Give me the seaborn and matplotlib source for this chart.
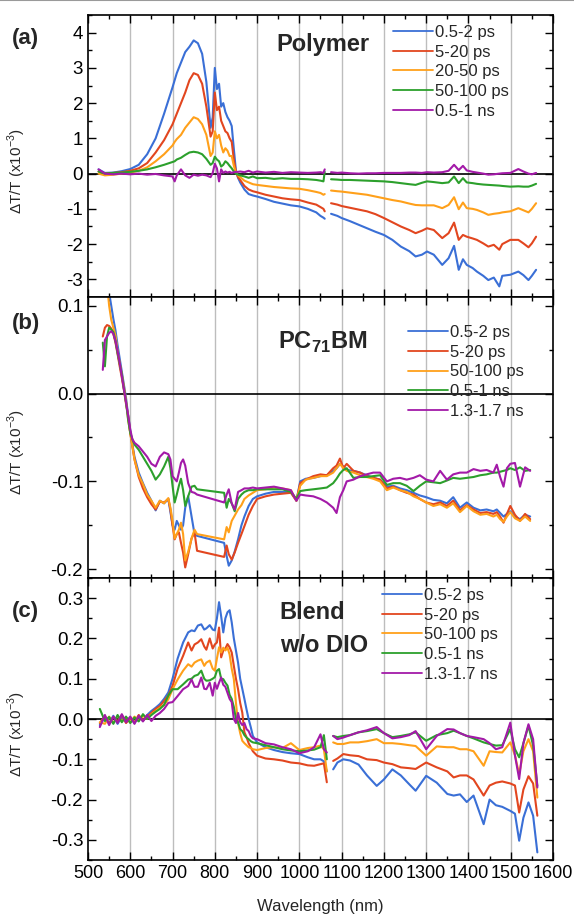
import numpy as np
import pandas as pd
import matplotlib
matplotlib.use('Agg')
import matplotlib.pyplot as plt
from matplotlib.lines import Line2D
from matplotlib.ticker import MultipleLocator, FormatStrFormatter
import seaborn as sns

sns.set_style('ticks')
plt.rcParams['font.family'] = ['Liberation Sans', 'DejaVu Sans']
plt.rcParams['axes.unicode_minus'] = False
plt.rcParams['mathtext.fontset'] = 'custom'
plt.rcParams['mathtext.rm'] = 'Liberation Sans'
plt.rcParams['mathtext.bf'] = 'Liberation Sans:bold'

nan = np.nan
colors = ['#3a6fd6', '#e2461f', '#ffa01a', '#2ca02c', '#a31aa8']

# ---------------- panel (a): polymer ----------------
labels_a = ['0.5-2 ps', '5-20 ps', '20-50 ps', '50-100 ps', '0.5-1 ns']
wl_a = [525, 540, 560, 580, 600, 620, 640, 660, 680, 700,
        705, 710, 720, 730, 740, 750, 760, 770, 780, 790,
        795, 800, 805, 810, 815, 820, 825, 830, 835, 840,
        845, 850, 855, 860, 870, 880, 890, 900, 920, 940,
        960, 980, 1000, 1020, 1040, 1050, 1057, 1060, 1068, 1075,
        1090, 1100, 1120, 1140, 1160, 1180, 1200, 1220, 1240, 1260,
        1275, 1290, 1302, 1318, 1338, 1353, 1366, 1377, 1387, 1396,
        1410, 1420, 1435, 1447, 1460, 1473, 1480, 1499, 1518, 1530,
        1542, 1550, 1560]
a_05_2ps = [0.12, 0.02, 0.03, 0.07, 0.13, 0.25, 0.55, 1.0, 1.7, 2.45,
            2.65, 2.85, 3.15, 3.45, 3.6, 3.78, 3.7, 3.4, 2.6, 1.3,
            1.6, 3.0, 2.4, 2.55, 1.9, 2.0, 1.75, 1.6, 1.5, 1.35,
            0.7, 0.08, -0.12, -0.25, -0.45, -0.58, -0.62, -0.65, -0.72, -0.8,
            -0.85, -0.9, -0.93, -1.0, -1.1, -1.2, -1.25, -1.28, nan, -1.14,
            -1.2, -1.26, -1.35, -1.45, -1.55, -1.65, -1.74, -1.88, -2.07, -2.2,
            -2.35, -2.3, -2.21, -2.3, -2.59, -2.4, -2.05, -2.73, -2.43, -2.59,
            -2.68, -2.78, -2.9, -3.02, -2.95, -3.2, -2.9, -2.87, -2.78, -2.88,
            -3.02, -2.9, -2.73]
a_5_20ps = [0.06, 0.0, 0.02, 0.04, 0.08, 0.15, 0.3, 0.6, 0.95, 1.4,
            1.55, 1.7, 2.0, 2.3, 2.65, 2.85, 2.8, 2.55, 1.9, 1.05,
            1.2, 2.3, 1.8, 1.9, 1.5, 1.35, 1.2, 1.15, 1.0, 0.9,
            0.4, 0.05, -0.1, -0.18, -0.35, -0.45, -0.5, -0.53, -0.6, -0.65,
            -0.7, -0.73, -0.75, -0.82, -0.88, -0.95, -1.0, -1.07, nan, -0.84,
            -0.88, -0.92, -0.97, -1.02, -1.07, -1.15, -1.26, -1.38, -1.5, -1.6,
            -1.69, -1.62, -1.55, -1.6, -1.83, -1.69, -1.39, -1.88, -1.74, -1.79,
            -1.84, -1.88, -1.98, -2.07, -2.02, -2.16, -2.0, -1.88, -1.88, -1.98,
            -2.09, -1.98, -1.79]
a_20_50ps = [0.0, -0.05, -0.03, 0.0, 0.03, 0.08, 0.18, 0.35, 0.55, 0.8,
             0.9, 0.98, 1.1, 1.3, 1.45, 1.6, 1.55, 1.4, 1.1, 0.5,
             0.6, 1.2, 1.0, 1.1, 0.8, 0.6, 0.72, 0.65, 0.5, 0.5,
             0.22, 0.02, -0.05, -0.1, -0.2, -0.25, -0.3, -0.32, -0.35, -0.38,
             -0.4, -0.42, -0.43, -0.47, -0.52, -0.55, -0.6, -0.58, nan, -0.48,
             -0.5, -0.51, -0.54, -0.57, -0.6, -0.65, -0.7, -0.75, -0.79, -0.85,
             -0.89, -0.9, -0.9, -0.9, -0.98, -0.89, -0.67, -1.01, -0.82, -0.98,
             -1.0, -1.03, -1.1, -1.17, -1.14, -1.12, -1.1, -1.07, -0.98, -1.04,
             -1.1, -1.0, -0.84]
a_50_100ps = [0.06, 0.0, 0.02, 0.03, 0.05, 0.08, 0.12, 0.18, 0.25, 0.33,
              0.35, 0.4, 0.45, 0.53, 0.6, 0.62, 0.6, 0.55, 0.42, 0.25,
              0.3, 0.48, 0.4, 0.35, 0.2, 0.25, 0.35, 0.3, 0.22, 0.15,
              0.06, 0.0, -0.03, -0.05, -0.08, -0.12, -0.08, -0.13, -0.12, -0.15,
              -0.13, -0.15, -0.15, -0.16, -0.18, -0.2, -0.22, 0.05, nan, -0.16,
              -0.17, -0.18, -0.18, -0.19, -0.2, -0.21, -0.22, -0.24, -0.27, -0.3,
              -0.32, -0.26, -0.22, -0.24, -0.27, -0.25, -0.08, -0.27, -0.13, -0.25,
              -0.27, -0.29, -0.31, -0.32, -0.33, -0.34, -0.35, -0.37, -0.36, -0.37,
              -0.37, -0.34, -0.29]
a_05_1ns = [0.12, 0.0, -0.02, 0.0, -0.02, 0.0, -0.03, -0.01, -0.05, -0.08,
            -0.22, -0.05, 0.12, -0.05, -0.12, -0.03, -0.06, -0.03, -0.05, -0.1,
            0.02, 0.28, 0.15, -0.22, 0.12, 0.02, 0.06, 0.03, 0.05, 0.02,
            0.04, 0.05, 0.05, 0.06, 0.04, 0.08, 0.03, 0.06, 0.03, 0.05,
            0.02, 0.04, 0.03, 0.02, 0.03, 0.04, 0.02, 0.12, nan, 0.04,
            0.02, 0.03, 0.01, 0.0, 0.01, 0.01, 0.02, 0.02, 0.02, 0.03,
            0.03, 0.02, 0.04, 0.03, 0.04, 0.08, 0.25, 0.1, 0.22, 0.09,
            0.05, 0.03, 0.0, -0.03, -0.02, 0.0, 0.01, 0.02, 0.13, 0.06,
            0.0, -0.02, 0.02]

# ---------------- panel (b): PC71BM ----------------
labels_bc = ['0.5-2 ps', '5-20 ps', '50-100 ps', '0.5-1 ns', '1.3-1.7 ns']
wl_b = [535, 540, 545, 550, 555, 560, 565, 570, 575, 580,
        585, 590, 595, 600, 605, 610, 620, 630, 640, 650,
        660, 670, 680, 690, 695, 700, 705, 710, 715, 720,
        725, 730, 737, 745, 752, 758, 822, 828, 833, 840,
        847, 855, 863, 870, 880, 890, 900, 920, 940, 960,
        980, 993, 1002, 1015, 1033, 1050, 1065, 1080, 1088, 1096,
        1104, 1112, 1128, 1144, 1159, 1175, 1191, 1207, 1222, 1238,
        1254, 1270, 1285, 1300, 1317, 1333, 1349, 1364, 1380, 1396,
        1412, 1428, 1443, 1459, 1467, 1475, 1483, 1491, 1499, 1510,
        1522, 1534, 1546]
b_05_2ps = [nan, nan, 0.14, 0.115, 0.1, 0.085, 0.072, 0.055, 0.04, 0.025,
            0.01, -0.005, -0.025, -0.042, -0.058, -0.072, -0.09, -0.102, -0.113, -0.122,
            -0.133, -0.122, -0.125, -0.12, -0.135, -0.15, -0.155, -0.145, -0.15, -0.155,
            -0.15, -0.13, -0.117, -0.14, -0.16, -0.162, -0.17, -0.185, -0.196, -0.19,
            -0.18, -0.166, -0.15, -0.14, -0.128, -0.12, -0.117, -0.114, -0.112, -0.112,
            -0.112, -0.122, -0.1, -0.097, -0.096, -0.094, -0.093, -0.088, -0.085, -0.08,
            -0.083, -0.087, -0.088, -0.09, -0.093, -0.096, -0.098, -0.106, -0.105, -0.108,
            -0.11, -0.113, -0.116, -0.118, -0.121, -0.122, -0.125, -0.118, -0.13, -0.124,
            -0.13, -0.133, -0.132, -0.134, -0.132, -0.136, -0.14, -0.137, -0.134, -0.14,
            -0.143, -0.138, -0.14]
b_5_20ps = [0.065, 0.075, 0.078, 0.077, 0.074, 0.068, 0.058, 0.045, 0.031, 0.018,
            0.004, -0.012, -0.025, -0.045, -0.06, -0.075, -0.095, -0.108, -0.118, -0.126,
            -0.132, -0.123, -0.124, -0.12, -0.132, -0.15, -0.166, -0.16, -0.158, -0.17,
            -0.181, -0.198, -0.183, -0.165, -0.158, -0.179, -0.186, -0.173, -0.183, -0.189,
            -0.181, -0.17, -0.16, -0.151, -0.138, -0.128, -0.12, -0.117, -0.115, -0.114,
            -0.113, -0.122, -0.102, -0.098, -0.094, -0.092, -0.093, -0.085, -0.082, -0.074,
            -0.085, -0.08, -0.088, -0.09, -0.094, -0.096, -0.098, -0.108, -0.106, -0.11,
            -0.113, -0.115, -0.12, -0.124, -0.126, -0.124, -0.128, -0.122, -0.133, -0.127,
            -0.132, -0.136, -0.135, -0.137, -0.135, -0.14, -0.147, -0.137, -0.128, -0.138,
            -0.145, -0.137, -0.143]
b_50_100ps = [nan, nan, 0.125, 0.1, 0.084, 0.075, 0.066, 0.048, 0.035, 0.022,
              0.008, -0.008, -0.03, -0.045, -0.06, -0.075, -0.093, -0.103, -0.115, -0.122,
              -0.13, -0.122, -0.125, -0.119, -0.13, -0.145, -0.165, -0.16, -0.155, -0.147,
              -0.16, -0.19, -0.18, -0.165, -0.155, -0.16, -0.166, -0.152, -0.158, -0.145,
              -0.139, -0.132, -0.127, -0.12, -0.116, -0.113, -0.11, -0.109, -0.107, -0.108,
              -0.11, -0.122, -0.105, -0.098, -0.096, -0.094, -0.094, -0.09, -0.085, -0.08,
              -0.085, -0.088, -0.09, -0.093, -0.095, -0.097, -0.1, -0.11, -0.107, -0.11,
              -0.112, -0.117, -0.12, -0.124, -0.128, -0.126, -0.13, -0.125, -0.135, -0.128,
              -0.134, -0.138, -0.137, -0.14, -0.138, -0.143, -0.146, -0.14, -0.135, -0.142,
              -0.145, -0.14, -0.145]
b_05_1ns = [0.058, 0.031, 0.065, 0.075, 0.073, 0.07, 0.06, 0.046, 0.034, 0.022,
            0.005, -0.01, -0.03, -0.045, -0.052, -0.058, -0.064, -0.072, -0.08, -0.088,
            -0.098, -0.092, -0.083, -0.072, -0.085, -0.105, -0.124, -0.115, -0.105, -0.097,
            -0.11, -0.128, -0.117, -0.106, -0.105, -0.109, -0.113, -0.13, -0.12, -0.125,
            -0.134, -0.12, -0.115, -0.112, -0.11, -0.11, -0.109, -0.109, -0.109, -0.109,
            -0.112, -0.12, -0.111, -0.11, -0.109, -0.108, -0.107, -0.102, -0.097, -0.091,
            -0.087, -0.085, -0.096, -0.095, -0.095, -0.094, -0.093, -0.104, -0.102, -0.102,
            -0.105, -0.111, -0.105, -0.1, -0.101, -0.102, -0.099, -0.096, -0.097, -0.096,
            -0.095, -0.093, -0.092, -0.09, -0.09, -0.089, -0.088, -0.087, -0.085, -0.087,
            -0.084, -0.088, -0.087]
b_13_17ns = [0.027, 0.061, 0.065, 0.069, 0.071, 0.068, 0.06, 0.048, 0.035, 0.02,
             0.005, -0.01, -0.025, -0.041, -0.052, -0.056, -0.06, -0.066, -0.072, -0.08,
             -0.083, -0.072, -0.067, -0.069, -0.075, -0.094, -0.097, -0.1, -0.09, -0.079,
             -0.075, -0.082, -0.102, -0.112, -0.113, -0.115, -0.124, -0.115, -0.109, -0.125,
             -0.132, -0.112, -0.11, -0.108, -0.108, -0.107, -0.108, -0.107, -0.106, -0.108,
             -0.11, -0.122, -0.115, -0.116, -0.117, -0.12, -0.124, -0.13, -0.136, -0.118,
             -0.11, -0.1, -0.098, -0.094, -0.092, -0.09, -0.09, -0.1, -0.097, -0.096,
             -0.098, -0.096, -0.093, -0.098, -0.1, -0.088, -0.098, -0.092, -0.09, -0.09,
             -0.086, -0.088, -0.087, -0.09, -0.081, -0.095, -0.106, -0.085, -0.08, -0.079,
             -0.106, -0.084, -0.088]

# ---------------- panel (c): blend w/o DIO ----------------
wl_c = [528, 540, 550, 560, 570, 580, 590, 600, 610, 620,
        630, 640, 650, 660, 670, 680, 690, 700, 712, 725,
        737, 745, 752, 760, 768, 775, 780, 788, 795, 800,
        805, 810, 815, 820, 825, 830, 835, 840, 845, 850,
        855, 860, 865, 870, 875, 880, 885, 890, 900, 920,
        940, 960, 980, 1000, 1020, 1035, 1050, 1058, 1065, 1072,
        1080, 1090, 1104, 1120, 1140, 1160, 1183, 1200, 1220, 1240,
        1260, 1275, 1300, 1325, 1350, 1365, 1380, 1396, 1412, 1436,
        1450, 1465, 1480, 1499, 1510, 1520, 1530, 1542, 1553, 1563]
c_05_2ps = [-0.015, 0.005, -0.01, 0.008, -0.012, 0.006, -0.008, 0.004, -0.01, 0.008,
            -0.005, 0.01, 0.02, 0.028, 0.037, 0.05, 0.066, 0.1, 0.15, 0.19,
            0.215, 0.22, 0.218, 0.232, 0.235, 0.222, 0.225, 0.233, 0.222, 0.22,
            0.25, 0.29, 0.255, 0.215, 0.25, 0.265, 0.27, 0.24, 0.2, 0.17,
            0.14, 0.1, 0.075, 0.05, 0.024, 0.0, -0.02, -0.042, -0.058, -0.07,
            -0.077, -0.082, -0.085, -0.087, -0.095, -0.1, -0.1, -0.105, -0.13, nan,
            -0.125, -0.108, -0.1, -0.103, -0.113, -0.14, -0.166, -0.15, -0.125, -0.14,
            -0.162, -0.178, -0.141, -0.158, -0.186, -0.19, -0.187, -0.206, -0.19, -0.261,
            -0.2, -0.214, -0.218, -0.228, -0.235, -0.302, -0.245, -0.207, -0.24, -0.331]
c_5_20ps = [-0.01, 0.008, -0.012, 0.005, -0.006, 0.01, -0.01, 0.002, -0.008, 0.01,
            -0.004, 0.006, 0.015, 0.025, 0.032, 0.045, 0.058, 0.082, 0.125, 0.157,
            0.19, 0.17, 0.185, 0.19, 0.198, 0.18, 0.172, 0.2, 0.175, 0.185,
            0.19, 0.227, 0.153, 0.17, 0.175, 0.186, 0.178, 0.165, 0.132, 0.1,
            0.074, 0.04, 0.016, -0.033, -0.045, -0.06, -0.07, -0.08, -0.091, -0.098,
            -0.1, -0.103, -0.108, -0.11, -0.115, -0.116, -0.112, -0.11, -0.157, nan,
            -0.104, -0.098, -0.087, -0.09, -0.092, -0.1, -0.102, -0.108, -0.112, -0.12,
            -0.122, -0.124, -0.108, -0.12, -0.13, -0.145, -0.14, -0.14, -0.15, -0.19,
            -0.165, -0.158, -0.155, -0.16, -0.165, -0.232, -0.175, -0.142, -0.16, -0.24]
c_50_100ps = [-0.008, -0.012, 0.006, -0.01, 0.008, -0.005, 0.004, -0.008, 0.006, -0.004,
              0.008, 0.0, 0.012, 0.02, 0.028, 0.035, 0.049, 0.074, 0.098, 0.12,
              0.136, 0.13, 0.14, 0.145, 0.148, 0.132, 0.14, 0.145, 0.125, 0.12,
              0.15, 0.178, 0.165, 0.177, 0.17, 0.177, 0.16, 0.125, 0.099, 0.04,
              -0.01, -0.035, -0.054, -0.06, -0.065, -0.07, -0.072, -0.075, -0.077, -0.072,
              -0.07, -0.072, -0.06, -0.077, -0.072, -0.07, -0.066, -0.075, -0.13, nan,
              -0.058, -0.062, -0.062, -0.058, -0.058, -0.055, -0.05, -0.06, -0.06, -0.062,
              -0.065, -0.067, -0.091, -0.068, -0.07, -0.07, -0.075, -0.075, -0.08, -0.116,
              -0.08, -0.082, -0.083, -0.058, -0.09, -0.137, -0.08, -0.05, -0.08, -0.195]
c_05_1ns = [0.025, -0.005, 0.005, -0.012, 0.01, -0.008, 0.006, -0.01, 0.004, -0.006,
            0.012, 0.0, 0.01, 0.018, 0.025, 0.035, 0.058, 0.074, 0.074, 0.086,
            0.098, 0.1, 0.107, 0.11, 0.12, 0.1, 0.095, 0.096, 0.1, 0.104,
            0.12, 0.124, 0.1, 0.099, 0.09, 0.083, 0.06, 0.05, 0.03, 0.0,
            -0.008, -0.025, -0.03, -0.04, -0.046, -0.05, -0.055, -0.058, -0.06, -0.065,
            -0.07, -0.075, -0.078, -0.08, -0.078, -0.076, -0.07, -0.04, -0.1, nan,
            -0.042, -0.045, -0.042, -0.04, -0.033, -0.03, -0.025, -0.035, -0.045, -0.042,
            -0.038, -0.033, -0.054, -0.04, -0.035, -0.029, -0.035, -0.042, -0.048, -0.058,
            -0.062, -0.066, -0.065, -0.025, -0.075, -0.095, -0.06, -0.017, -0.066, -0.166]
c_13_17ns = [-0.02, 0.01, -0.015, 0.006, -0.01, 0.012, -0.008, 0.006, -0.012, 0.008,
             -0.006, 0.01, -0.005, 0.008, 0.015, 0.025, 0.04, 0.042, 0.057, 0.074,
             0.082, 0.098, 0.08, 0.08, 0.103, 0.075, 0.074, 0.09, 0.058, 0.09,
             0.075, 0.09, 0.103, 0.085, 0.08, 0.065, 0.05, 0.042, 0.0, -0.01,
             0.015, -0.008, -0.015, -0.01, -0.025, -0.03, -0.042, -0.048, -0.05, -0.06,
             -0.063, -0.07, -0.075, -0.085, -0.08, -0.07, -0.038, -0.075, -0.083, nan,
             -0.042, -0.05, -0.046, -0.04, -0.033, -0.028, -0.02, -0.035, -0.048, -0.045,
             -0.04, -0.03, -0.075, -0.042, -0.025, -0.026, -0.035, -0.042, -0.045, -0.05,
             -0.06, -0.075, -0.07, -0.009, -0.09, -0.149, -0.06, -0.013, -0.05, -0.17]


def long_form(wl, labels, series):
    # one row per point, NaN marks a break in the spectrum
    frames = []
    for name, vals in zip(labels, series):
        v = np.array(vals, dtype=float)
        frames.append(pd.DataFrame({'wl': wl, 'dT': v, 'delay': name,
                                    'seg': np.cumsum(np.isnan(v))}))
    return pd.concat(frames, ignore_index=True).dropna()


panels = [
    dict(df=long_form(wl_a, labels_a, [a_05_2ps, a_5_20ps, a_20_50ps, a_50_100ps, a_05_1ns]),
         labels=labels_a, ylim=(-3.5, 4.5), major=1, minor=0.5, fmt='%d',
         rect=[0.1533, 0.6758, 0.8101, 0.3078], tag='(a)', tag_y=0.9585,
         leg=(0.655, 0.965)),
    dict(df=long_form(wl_b, labels_bc, [b_05_2ps, b_5_20ps, b_50_100ps, b_05_1ns, b_13_17ns]),
         labels=labels_bc, ylim=(-0.21, 0.11), major=0.1, minor=0.05, fmt='%.1f',
         rect=[0.1533, 0.3690, 0.8101, 0.3068], tag='(b)', tag_y=0.647,
         leg=(0.688, 0.90)),
    dict(df=long_form(wl_c, labels_bc, [c_05_2ps, c_5_20ps, c_50_100ps, c_05_1ns, c_13_17ns]),
         labels=labels_bc, ylim=(-0.35, 0.35), major=0.1, minor=0.05, fmt='%.1f',
         rect=[0.1533, 0.0611, 0.8101, 0.3079], tag='(c)', tag_y=0.332,
         leg=(0.632, 0.965)),
]

fig = plt.figure(figsize=(5.74, 9.16), dpi=100)
fig.add_artist(Line2D([0, 1], [0.9995, 0.9995], color='#9a9a9a', lw=1.5))

axes = []
for p in panels:
    ax = fig.add_axes(p['rect'])
    axes.append(ax)
    for g in range(600, 1501, 100):
        ax.axvline(g, color='#bdbdbd', lw=1.0, zorder=0)
    ax.axhline(0, color='black', lw=1.2, zorder=1)
    sns.lineplot(data=p['df'], x='wl', y='dT', hue='delay', units='seg', estimator=None,
                 hue_order=p['labels'], palette=colors, sort=False, lw=1.5,
                 legend=False, ax=ax, zorder=2)
    ax.set_xlim(500, 1600)
    ax.set_ylim(*p['ylim'])
    ax.xaxis.set_major_locator(MultipleLocator(100))
    ax.xaxis.set_minor_locator(MultipleLocator(50))
    ax.yaxis.set_major_locator(MultipleLocator(p['major']))
    ax.yaxis.set_minor_locator(MultipleLocator(p['minor']))
    ax.yaxis.set_major_formatter(FormatStrFormatter(p['fmt']))
    ax.tick_params(which='both', direction='in', top=True, right=True, width=1.0,
                   labelsize=13, colors='black')
    ax.tick_params(axis='y', labelsize=13.5)
    ax.tick_params(which='major', length=6)
    ax.tick_params(which='minor', length=3)
    for s in ax.spines.values():
        s.set_linewidth(1.2)
        s.set_color('black')
    ax.set_xlabel('')
    ax.set_ylabel(r'ΔT/T (x10$^{-3}$)', fontsize=11)
    ax.yaxis.set_label_coords(-0.129, 0.447)

    handles = [Line2D([], [], color=c, lw=1.3) for c in colors]
    ax.legend(handles, p['labels'], loc='upper left', bbox_to_anchor=p['leg'],
              frameon=False, fontsize=12, handlelength=2.4, handletextpad=0.15,
              labelspacing=0.28, borderpad=0, borderaxespad=0)
    fig.text(0.045, p['tag_y'], p['tag'], fontsize=16, fontweight='bold',
             ha='center', va='center')

axes[0].text(0.405, 0.894, 'Polymer', transform=axes[0].transAxes, fontsize=17,
             fontweight='bold', ha='left', va='center')
axes[1].text(0.408, 0.84, r'PC$_{\mathbf{71}}$BM', transform=axes[1].transAxes, fontsize=17,
             fontweight='bold', ha='left', va='center')
axes[2].text(0.412, 0.876, 'Blend', transform=axes[2].transAxes, fontsize=17,
             fontweight='bold', ha='left', va='center')
axes[2].text(0.412, 0.762, 'w/o DIO', transform=axes[2].transAxes, fontsize=17,
             fontweight='bold', ha='left', va='center')

axes[0].tick_params(labelbottom=False)
axes[1].tick_params(labelbottom=False)
axes[2].set_xlabel('Wavelength (nm)', fontsize=12)
axes[2].xaxis.set_label_coords(0.5, -0.137)

fig.savefig('out.png', dpi=100)
